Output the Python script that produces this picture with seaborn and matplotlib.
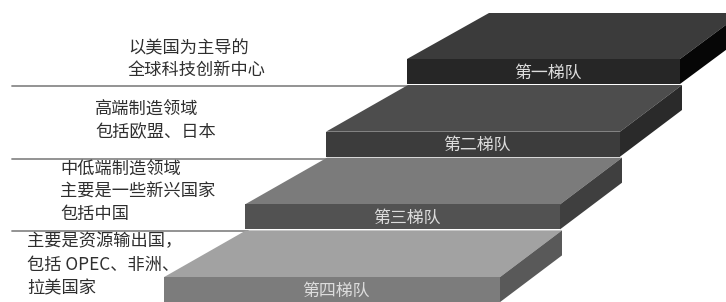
import matplotlib
matplotlib.use("Agg")
import matplotlib.pyplot as plt
from matplotlib.patches import Polygon
import seaborn as sns

sns.set_theme(style="white")
plt.rcParams['font.family'] = ['Noto Sans CJK SC', 'DejaVu Sans']

# data: the four tiers, top (first) to bottom (fourth)
tier_labels = ['第一梯队', '第二梯队', '第三梯队', '第四梯队']
tier_notes = [
    ['以美国为主导的', '全球科技创新中心'],
    ['高端制造领域', '包括欧盟、日本'],
    ['中低端制造领域', '主要是一些新兴国家', '包括中国'],
    ['主要是资源输出国，', '包括 OPEC、非洲、', '拉美国家'],
]
tier_level = [1, 2, 3, 4]

# colours per tier: top face, front face, side face
top_colors = ['#3b3b3b', '#4d4d4d', '#7b7b7b', '#a2a2a2']
front_colors = ['#262626', '#3c3c3c', '#525252', '#7c7c7c']
side_colors = ['#060606', '#2a2a2a', '#3f3f3f', '#595959']

# layout (pixel space of a 726x302 picture)
W, H = 726, 302
fig = plt.figure(figsize=(W / 100, H / 100), dpi=100)
ax = fig.add_axes([0, 0, 1, 1])
ax.set_xlim(0, W)
ax.set_ylim(H, 0)
ax.axis('off')

note_x = [128, 95, 60, 27]
note_y = [[48, 70], [110, 132], [170, 192, 214], [241, 265, 288]]

prev_bottom = 13
for i, lvl in enumerate(tier_level):
    k = lvl - 1
    xl = 407 - 81 * k
    xr = 680 - 60 * k
    yb = 84 + 72.7 * k
    yt = yb - 25
    yback = prev_bottom
    dxl, dxr = 82, 62
    thick = yb - yt

    # separator line and description (drawn under the steps)
    if k > 0:
        ax.plot([12, xl + 82 + 2], [yback + 1, yback + 1], color='#8a8a8a', lw=1.3, zorder=1)
    for line, y in zip(tier_notes[i], note_y[i]):
        ax.text(note_x[i], y, line, fontsize=12.4, color='#2e2e2e', va='center', ha='left', zorder=2)

    top = Polygon([[xl, yt], [xl + dxl, yback], [xr + dxr, yback], [xr, yt]],
                  closed=True, facecolor=top_colors[i], edgecolor='none', zorder=5 + i)
    side = Polygon([[xr, yt], [xr + dxr, yback], [xr + dxr, yback + thick], [xr, yb]],
                   closed=True, facecolor=side_colors[i], edgecolor='none', zorder=5 + i)
    front = Polygon([[xl, yt], [xr, yt], [xr, yb], [xl, yb]],
                    closed=True, facecolor=front_colors[i], edgecolor='none', zorder=5 + i)
    for p in (top, side, front):
        ax.add_patch(p)
    ax.text((xl + xr) / 2 + 4, (yt + yb) / 2 + 1, tier_labels[i], fontsize=12.2,
            color='#dcdcdc', ha='center', va='center', zorder=10)
    prev_bottom = yb + 1

fig.savefig('out.png', dpi=100)
